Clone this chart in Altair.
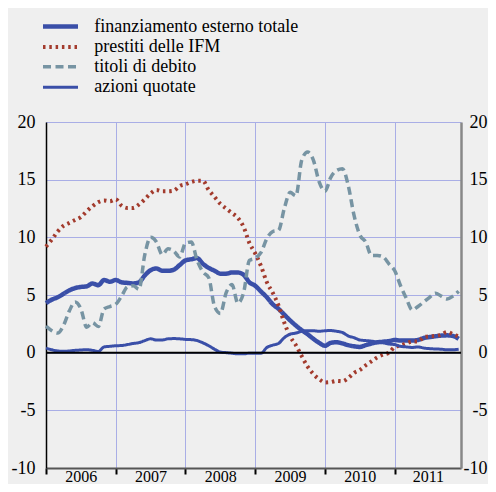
import json
import altair as alt
import pandas as pd

# ---------------- data ----------------
series_names = ["finanziamento esterno totale", "prestiti delle IFM",
                "titoli di debito", "azioni quotate"]
year_labels = ["2006", "2007", "2008", "2009", "2010", "2011"]
y_ticks = [-10, -5, 0, 5, 10, 15, 20]
months = list(range(72))  # Jan 2006 .. Dec 2011

totale = [4.3, 4.6, 4.8, 5.1, 5.4, 5.6, 5.7, 5.75, 6.0, 5.85, 6.3, 6.15,
          6.3, 6.1, 6.05, 6.0, 6.1, 6.7, 7.15, 7.3, 7.1, 7.1, 7.2, 7.6,
          8.0, 8.1, 8.2, 7.7, 7.35, 7.1, 6.85, 6.85, 6.95, 6.95, 6.75, 6.1,
          5.8, 5.3, 4.8, 4.2, 3.8, 3.3, 2.8, 2.35, 1.95, 1.6, 1.2, 0.85,
          0.6, 0.85, 0.9, 0.8, 0.65, 0.55, 0.5, 0.65, 0.8, 0.9, 0.95, 1.0,
          1.1, 1.05, 1.05, 1.05, 1.1, 1.27, 1.35, 1.42, 1.48, 1.5, 1.45, 1.2]

prestiti = [9.2, 9.8, 10.5, 11.0, 11.25, 11.5, 11.75, 12.25, 12.7, 13.05, 13.2, 13.13,
            13.3, 12.75, 12.55, 12.55, 12.85, 13.3, 13.8, 14.1, 14.0, 14.0, 14.05, 14.45,
            14.6, 14.8, 14.9, 14.9, 14.1, 13.5, 12.9, 12.5, 12.1, 11.7, 10.9, 9.5,
            8.6, 7.5, 6.1, 5.2, 4.1, 2.6, 1.4, 0.65, -0.3, -1.2, -1.85, -2.3,
            -2.58, -2.55, -2.45, -2.48, -2.2, -1.75, -1.5, -1.1, -0.75, -0.4, -0.17, 0.0,
            0.5, 0.62, 0.8, 0.96, 0.96, 1.35, 1.42, 1.45, 1.55, 1.8, 1.6, 1.4]

titoli = [2.3, 1.9, 1.7, 2.35, 3.6, 4.4, 3.8, 2.2, 2.6, 2.26, 3.8, 4.0,
          4.2, 4.9, 5.7, 5.8, 5.5, 8.5, 10.0, 9.6, 8.5, 9.0, 8.8, 8.3,
          9.5, 9.6, 8.0, 7.0, 6.5, 4.0, 3.4, 5.2, 5.9, 4.3, 5.2, 8.0,
          8.2, 8.7, 9.9, 10.5, 10.6, 12.5, 13.9, 13.6, 16.7, 17.4, 16.7, 14.8,
          14.0, 15.2, 15.8, 15.95, 14.5, 11.9, 10.2, 9.6, 8.43, 8.43, 8.3, 7.7,
          7.1, 5.8, 4.7, 3.7, 4.0, 4.4, 4.8, 5.16, 4.9, 4.66, 4.9, 5.33]

azioni = [0.4, 0.25, 0.15, 0.12, 0.15, 0.2, 0.23, 0.26, 0.2, 0.1, 0.5, 0.55,
          0.6, 0.62, 0.7, 0.8, 0.87, 1.05, 1.2, 1.1, 1.1, 1.2, 1.22, 1.2,
          1.15, 1.13, 1.05, 0.85, 0.6, 0.3, 0.05, 0.0, -0.05, -0.1, -0.1, -0.05,
          -0.05, -0.05, 0.45, 0.65, 0.8, 1.3, 1.6, 1.7, 1.85, 1.9, 1.9, 1.86,
          1.9, 1.92, 1.85, 1.75, 1.45, 1.3, 1.1, 1.05, 1.0, 0.9, 0.85, 0.75,
          0.7, 0.55, 0.5, 0.45, 0.5, 0.4, 0.35, 0.32, 0.3, 0.25, 0.25, 0.3]

# ---------------- styles ----------------
BG = "#efefef"
GRID = "#a9aee6"
FONT = "Liberation Serif"
colors = ["#3a4fa8", "#a33b2d", "#7794a3", "#3a4fa8"]
dashes = [[1, 0], [2.5, 3.8], [8, 4.5], [1, 0]]
widths = [4.5, 3, 4, 2]

rows = []
for name, vals in zip(series_names, [totale, prestiti, titoli, azioni]):
    for m, v in zip(months, vals):
        rows.append({"serie": name, "mese": m, "valore": v})
df = pd.DataFrame(rows)

X_MAX = 71.4
mids = [6, 18, 30, 42, 54, (60 + X_MAX) / 2]
df_years = pd.DataFrame({"mid": mids, "anno": year_labels})

xs = alt.Scale(domain=[0, X_MAX], nice=False, zero=False)
ys = alt.Scale(domain=[-10, 20], nice=False, zero=False)

legend = alt.Legend(
    title=None, orient="none", legendX=3.5, legendY=-106.5,
    symbolType="M-2,0H2", symbolSize=306, padding=0,
    labelFont=FONT, labelFontSize=18, labelColor="black",
    labelOffset=22.75, rowPadding=0.4, labelLimit=400,
)

lines = alt.Chart(df).mark_line(interpolate="monotone").encode(
    x=alt.X("mese:Q", scale=xs, axis=alt.Axis(
        values=[0, 12, 24, 36, 48, 60], labels=False, title=None, orient="bottom",
        grid=True, gridColor=GRID, gridWidth=1,
        ticks=True, tickSize=6, tickColor="black", tickWidth=2,
        domain=True, domainColor="#555555", domainWidth=2)),
    y=alt.Y("valore:Q", scale=ys, axis=alt.Axis(
        values=y_ticks, title=None, orient="left",
        grid=True, gridColor=GRID, gridWidth=1,
        ticks=False, tickSize=0, labelPadding=11,
        labelExpr="'' + datum.value",
        labelFont=FONT, labelFontSize=18, labelColor="black",
        domain=True, domainColor="black", domainWidth=1.5)),
    color=alt.Color("serie:N", scale=alt.Scale(domain=series_names, range=colors),
                    legend=legend),
    strokeDash=alt.StrokeDash("serie:N", scale=alt.Scale(domain=series_names, range=dashes),
                              legend=legend),
    strokeWidth=alt.StrokeWidth("serie:N", scale=alt.Scale(domain=series_names, range=widths),
                                legend=legend),
)

zero = alt.Chart(pd.DataFrame({"v": [0]})).mark_rule(color="black", strokeWidth=2).encode(
    y=alt.Y("v:Q", scale=ys, axis=alt.Axis(
        values=y_ticks, title=None, orient="right", grid=False,
        ticks=False, tickSize=0, labelPadding=26, labelAlign="right",
        labelExpr="'' + datum.value",
        labelFont=FONT, labelFontSize=18, labelColor="black",
        domain=True, domainColor="#888888", domainWidth=2.5)),
)

years = alt.Chart(df_years).mark_rule(opacity=0).encode(
    x=alt.X("mid:Q", scale=xs, axis=alt.Axis(
        values=mids, title=None, orient="bottom", grid=False,
        ticks=False, tickSize=0, domain=False, labelPadding=0,
        labelExpr=json.dumps(year_labels) + "[floor(datum.value / 12)]",
        labelFont=FONT, labelFontSize=16, labelColor="black")),
)

chart = alt.layer(lines, zero, years).resolve_scale(
    x="independent", y="independent"
).properties(
    width=415, height=346,
    padding={"left": 38, "top": 114, "right": 27, "bottom": 16},
    autosize=alt.AutoSizeParams(type="none"),
    background=BG,
).configure_view(stroke=None)

chart.save("out.html", embed_options={"renderer": "svg", "actions": False})
